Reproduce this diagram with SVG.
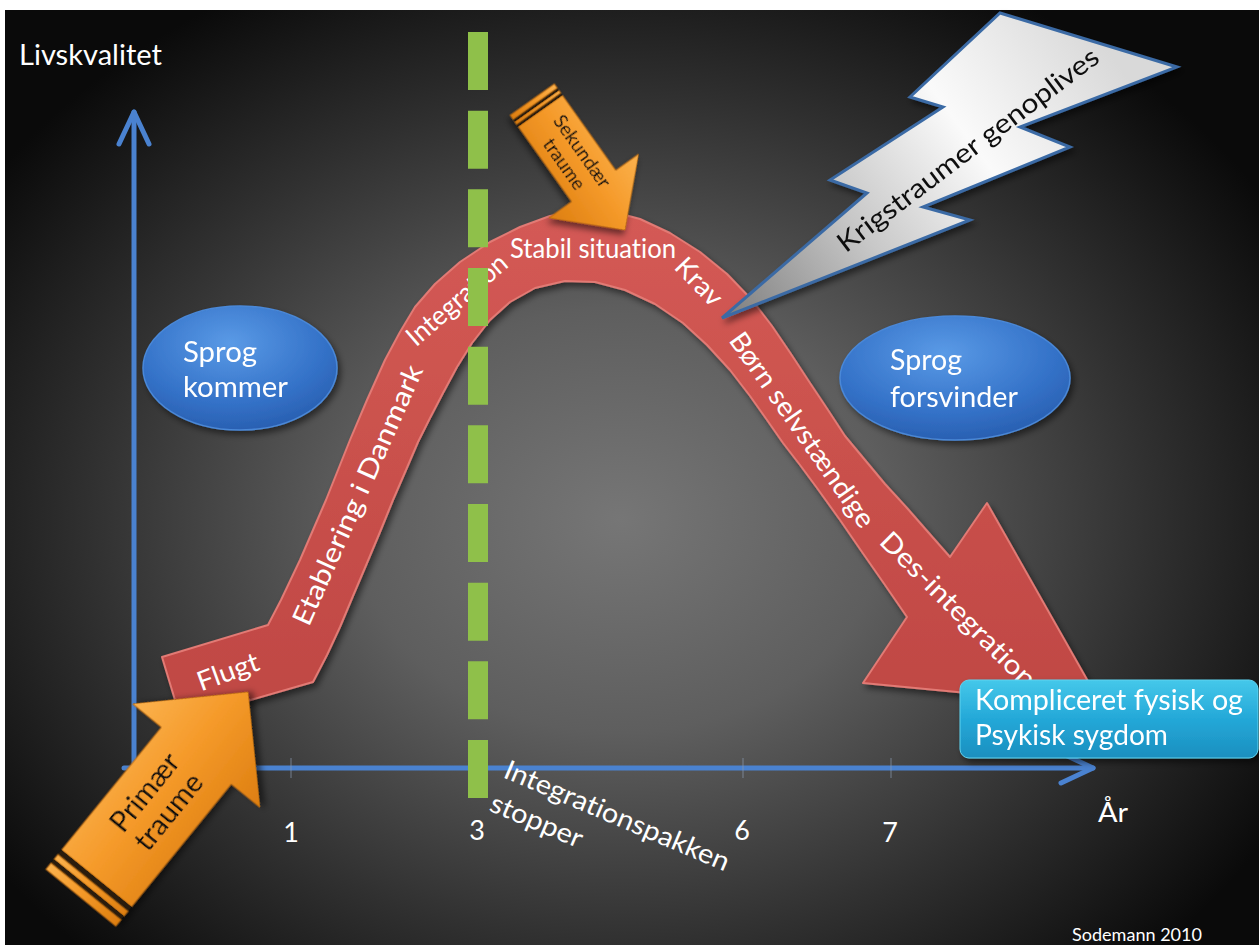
<svg xmlns="http://www.w3.org/2000/svg" width="1259" height="945" viewBox="0 0 1259 945">
<defs>
<radialGradient id="bg" gradientUnits="userSpaceOnUse" cx="620" cy="520" r="760" gradientTransform="translate(620 520) scale(1 0.8) translate(-620 -520)">
<stop offset="0" stop-color="#767676"/>
<stop offset="0.35" stop-color="#5e5e5e"/>
<stop offset="0.7" stop-color="#303030"/>
<stop offset="1" stop-color="#0a0a0a"/>
</radialGradient>
<linearGradient id="redg" x1="0" y1="0" x2="0" y2="1">
<stop offset="0" stop-color="#d45a55"/>
<stop offset="1" stop-color="#bf4743"/>
</linearGradient>
<linearGradient id="og" x1="0" y1="0" x2="0" y2="1">
<stop offset="0" stop-color="#fbb24e"/>
<stop offset="0.45" stop-color="#f59a2a"/>
<stop offset="1" stop-color="#dd7e10"/>
</linearGradient>
<linearGradient id="lg" gradientUnits="userSpaceOnUse" x1="722" y1="318" x2="1100" y2="40">
<stop offset="0" stop-color="#7d7d7d"/>
<stop offset="0.35" stop-color="#c8c8c8"/>
<stop offset="0.65" stop-color="#fafafa"/>
<stop offset="1" stop-color="#d9d9d9"/>
</linearGradient>
<radialGradient id="eg" cx="0.45" cy="0.3" r="0.8">
<stop offset="0" stop-color="#5a9ae6"/>
<stop offset="0.6" stop-color="#3472c8"/>
<stop offset="1" stop-color="#2558a8"/>
</radialGradient>
<linearGradient id="bxg" x1="0" y1="0" x2="0" y2="1">
<stop offset="0" stop-color="#45c8ea"/>
<stop offset="0.5" stop-color="#24a8d8"/>
<stop offset="1" stop-color="#1b8fbf"/>
</linearGradient>
<filter id="sh" x="-20%" y="-20%" width="140%" height="140%">
<feDropShadow dx="3" dy="4" stdDeviation="3" flood-color="#000" flood-opacity="0.5"/>
</filter>
<marker id="ah" markerUnits="userSpaceOnUse" viewBox="-40 -20 50 40" refX="0" refY="0" markerWidth="50" markerHeight="40" orient="auto" overflow="visible">
<path d="M-32,-15 L0,0 L-32,15" fill="none" stroke="#4a82d0" stroke-width="5" stroke-linecap="round" stroke-linejoin="round"/>
</marker>
<style>
.t{font-family:Lato,"Liberation Sans",Arial,sans-serif;fill:#ffffff;font-variant-ligatures:none}
.b{font-size:27px}
.k{fill:#111111}
.axis{stroke:#4a82d0;stroke-width:5;fill:none;stroke-linecap:round}
.tick{stroke:#8a9ab0;stroke-width:2;opacity:0.35}
.orange{fill:url(#og);stroke:#b86a10;stroke-width:1}
.stripe{fill:#2a1a08}
.ell{fill:url(#eg);stroke:#4a88d8;stroke-width:1.5}
</style>
</defs>

<rect x="0" y="0" width="1259" height="945" fill="#ffffff"/>
<rect x="5" y="10" width="1254" height="935" fill="url(#bg)"/>

<g id="axes">
<line class="axis" x1="134" y1="770" x2="134" y2="112" marker-end="url(#ah)"/>
<line class="axis" x1="124" y1="768" x2="1093" y2="768" marker-end="url(#ah)"/>
<line class="tick" x1="291" y1="758" x2="291" y2="778"/>
<line class="tick" x1="743" y1="758" x2="743" y2="778"/>
<line class="tick" x1="891" y1="758" x2="891" y2="778"/>
</g>

<g id="curve-arrow">
<path filter="url(#sh)" fill="url(#redg)" stroke="#e27a74" stroke-width="2" stroke-linejoin="round" d="M162,657 L268,625 L281,600 L300,560 L313,530 L326,500 L338,470 L350,440 L367,400 L385,360 L400,332 L415,307 L435,284 L460,262 L490,242 L520,227 L550,216 L580,211 L610,211 L640,219 L670,233 L700,252 L727,274 L752,300 L772,326 L791,354 L810,383 L828,410 L845,436 L865,460 L885,484 L907,508 L928,532 L950,557 L987,503 L1102,706 L863,683 L907,617 L885,585 L862,552 L840,520 L817,488 L800,465 L783,443 L767,420 L750,396 L730,370 L707,345 L683,323 L655,304 L625,290 L595,282 L565,281 L535,288 L510,302 L490,320 L472,343 L457,367 L443,393 L430,418 L418,442 L406,470 L393,500 L380,532 L367,563 L353,596 L340,627 L327,655 L313,682 L181,720 Z"/>
<text class="t b" transform="translate(228,672) rotate(-20)" x="0" y="9" text-anchor="middle" textLength="64" lengthAdjust="spacingAndGlyphs">Flugt</text>
<text class="t b" transform="translate(358,495) rotate(-66)" x="0" y="9" text-anchor="middle" textLength="282" lengthAdjust="spacingAndGlyphs">Etablering i Danmark</text>
<text class="t b" transform="translate(457,300) rotate(-41)" x="0" y="9" text-anchor="middle" textLength="124" lengthAdjust="spacingAndGlyphs">Integration</text>
<text class="t b" x="593" y="258" text-anchor="middle" textLength="166" lengthAdjust="spacingAndGlyphs">Stabil situation</text>
<text class="t b" transform="translate(699,282) rotate(46)" x="0" y="9" text-anchor="middle" textLength="56" lengthAdjust="spacingAndGlyphs">Krav</text>
<text class="t b" transform="translate(802,430) rotate(55)" x="0" y="9" text-anchor="middle" textLength="232" lengthAdjust="spacingAndGlyphs">Børn selvstændige</text>
<text class="t b" transform="translate(958,610) rotate(45)" x="0" y="9" text-anchor="middle" textLength="208" lengthAdjust="spacingAndGlyphs">Des-integration</text>
</g>

<g id="integration-stop-line">
<line x1="478" y1="32" x2="478" y2="798" stroke="#8fc04a" stroke-width="20" stroke-dasharray="58 20.67"/>
</g>

<g id="sprog-kommer" filter="url(#sh)">
<ellipse class="ell" cx="240" cy="368" rx="97" ry="62"/>
<text class="t" font-size="28" x="183" y="362" textLength="74" lengthAdjust="spacingAndGlyphs">Sprog</text>
<text class="t" font-size="28" x="183" y="397" textLength="105" lengthAdjust="spacingAndGlyphs">kommer</text>
</g>

<g id="sprog-forsvinder" filter="url(#sh)">
<ellipse class="ell" cx="955" cy="378" rx="115" ry="62"/>
<text class="t" font-size="28" x="890" y="370" textLength="72" lengthAdjust="spacingAndGlyphs">Sprog</text>
<text class="t" font-size="28" x="890" y="407" textLength="128" lengthAdjust="spacingAndGlyphs">forsvinder</text>
</g>

<g id="primaer-traume" transform="translate(248,692) rotate(-50.9)" filter="url(#sh)">
<path class="orange" d="M0,0 L-82,-82 L-82,-45 L-240,-45 L-240,45 L-82,45 L-82,82 Z"/>
<rect class="stripe" x="-246" y="-45" width="6" height="90"/>
<rect class="orange" x="-252" y="-45" width="6" height="90"/>
<rect class="stripe" x="-257" y="-45" width="5" height="90"/>
<rect class="orange" x="-265" y="-45" width="8" height="90"/>
<text class="t k" font-size="28" x="-143" y="-7" text-anchor="middle" textLength="92" lengthAdjust="spacingAndGlyphs">Primær</text>
<text class="t k" font-size="28" x="-143" y="24" text-anchor="middle" textLength="90" lengthAdjust="spacingAndGlyphs">traume</text>
</g>

<g id="sekundaer-traume" transform="translate(625,230) rotate(54.6)" filter="url(#sh)">
<path class="orange" d="M0,0 L-54,-55 L-54,-27 L-146,-27 L-146,27 L-54,27 L-54,55 Z"/>
<rect class="stripe" x="-149" y="-27" width="3" height="54"/>
<rect class="orange" x="-152" y="-27" width="3" height="54"/>
<rect class="stripe" x="-155" y="-27" width="3" height="54"/>
<rect class="orange" x="-160" y="-27" width="5" height="54"/>
<text class="t k" font-size="19" x="-89" y="-4" text-anchor="middle" textLength="84" lengthAdjust="spacingAndGlyphs">Sekundær</text>
<text class="t k" font-size="19" x="-89" y="18" text-anchor="middle" textLength="58" lengthAdjust="spacingAndGlyphs">traume</text>
</g>

<g id="krigstraumer" filter="url(#sh)">
<polygon points="722,318 867,193 830,180 943,107 910,97 1000,13 1177,67 1020,127 1070,147 923,207 970,220" fill="url(#lg)" stroke="#3b6ba5" stroke-width="3" stroke-linejoin="miter"/>
<text class="t k" font-size="27" transform="translate(968,150) rotate(-37)" x="0" y="9" text-anchor="middle" textLength="320" lengthAdjust="spacingAndGlyphs">Krigstraumer genoplives</text>
</g>

<g id="sygdom" filter="url(#sh)">
<rect x="960" y="680" width="298" height="78" rx="9" fill="url(#bxg)" stroke="#5fd3ef" stroke-width="1"/>
<text class="t" font-size="28" x="975" y="710" textLength="268" lengthAdjust="spacingAndGlyphs">Kompliceret fysisk og</text>
<text class="t" font-size="28" x="975" y="745" textLength="193" lengthAdjust="spacingAndGlyphs">Psykisk sygdom</text>
</g>

<g id="labels">
<text class="t" font-size="28" x="19" y="65" textLength="143" lengthAdjust="spacingAndGlyphs">Livskvalitet</text>
<text class="t" font-size="27" x="291" y="842" text-anchor="middle">1</text>
<text class="t" font-size="27" x="477" y="840" text-anchor="middle">3</text>
<text class="t" font-size="27" x="742" y="840" text-anchor="middle">6</text>
<text class="t" font-size="27" x="890" y="842" text-anchor="middle">7</text>
<text class="t" font-size="27" x="1098" y="822" textLength="30" lengthAdjust="spacingAndGlyphs">År</text>
<g transform="translate(502,777) rotate(23)">
<text class="t" font-size="27" x="0" y="0" textLength="242" lengthAdjust="spacingAndGlyphs">Integrationspakken</text>
<text class="t" font-size="27" x="0" y="36" textLength="98" lengthAdjust="spacingAndGlyphs">stopper</text>
</g>
<text class="t" font-size="17" x="1072" y="941" textLength="130" lengthAdjust="spacingAndGlyphs" fill="#e8e8e8">Sodemann  2010</text>
</g>
</svg>
